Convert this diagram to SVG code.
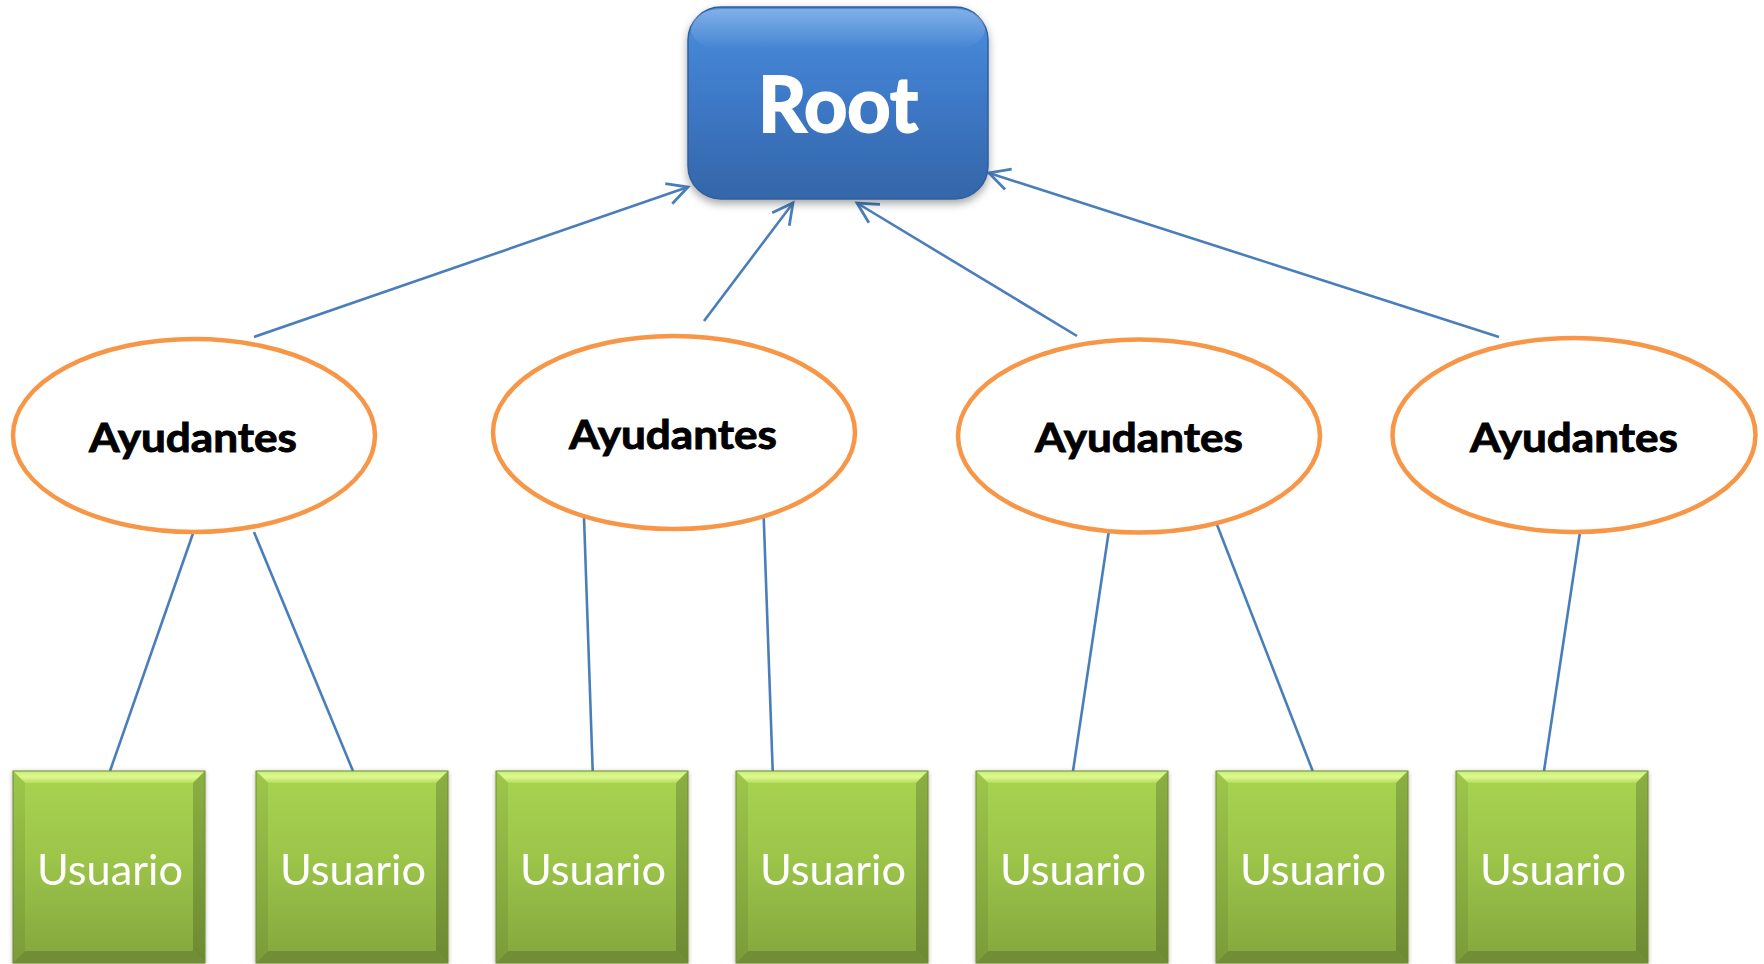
<svg xmlns="http://www.w3.org/2000/svg" xmlns:xlink="http://www.w3.org/1999/xlink" width="1764" height="964" viewBox="0 0 1764 964">
  <defs>
    <style>
      .conn { stroke: #4A7EBB; stroke-width: 2.6; fill: none; stroke-linecap: butt; }
      .ellipse { fill: #FFFFFF; stroke: #F79646; stroke-width: 4.5; }
      .ayu { font-family: Lato, "Liberation Sans", "Open Sans", sans-serif; font-weight: bold; font-size: 40px; fill: #000000; stroke: #000000; stroke-width: 0.9; text-anchor: middle; }
      .usu { font-family: Lato, "Liberation Sans", "Open Sans", sans-serif; font-weight: normal; font-size: 43px; fill: #FFFFFF; text-anchor: middle; }
      .root { font-family: Lato, "Liberation Sans", "Open Sans", sans-serif; font-weight: bold; font-size: 76px; fill: #FFFFFF; stroke: #FFFFFF; stroke-width: 2; text-anchor: middle; }
    </style>
    <linearGradient id="gRoot" x1="0" y1="0" x2="0" y2="1">
      <stop offset="0" stop-color="#4A8EDD"/>
      <stop offset="0.5" stop-color="#3D78C6"/>
      <stop offset="1" stop-color="#3566A8"/>
    </linearGradient>
    <linearGradient id="gRootHi" x1="0" y1="0" x2="0" y2="1">
      <stop offset="0" stop-color="#FFFFFF" stop-opacity="0.3"/>
      <stop offset="1" stop-color="#FFFFFF" stop-opacity="0"/>
    </linearGradient>
    <linearGradient id="gBox" x1="0" y1="0" x2="0" y2="1">
      <stop offset="0" stop-color="#A9D451"/>
      <stop offset="0.45" stop-color="#9CC54A"/>
      <stop offset="1" stop-color="#84A63E"/>
    </linearGradient>
    <linearGradient id="gBevTop" x1="0" y1="0" x2="0" y2="1">
      <stop offset="0" stop-color="#C9EC7A"/>
      <stop offset="0.5" stop-color="#DDF98F"/>
      <stop offset="1" stop-color="#B5DC5C"/>
    </linearGradient>
    <linearGradient id="gBevSide" x1="0" y1="0" x2="0" y2="1">
      <stop offset="0" stop-color="#9CC84A"/>
      <stop offset="1" stop-color="#7B9B39"/>
    </linearGradient>
    <linearGradient id="gBevRight" x1="0" y1="0" x2="0" y2="1">
      <stop offset="0" stop-color="#8AB043"/>
      <stop offset="1" stop-color="#6C8A32"/>
    </linearGradient>
    <filter id="shadowRoot" x="-10%" y="-10%" width="120%" height="130%">
      <feDropShadow dx="0" dy="4" stdDeviation="4" flood-color="#000000" flood-opacity="0.35"/>
    </filter>
    <filter id="shadowBox" x="-10%" y="-10%" width="120%" height="120%">
      <feDropShadow dx="0" dy="1" stdDeviation="2" flood-color="#000000" flood-opacity="0.3"/>
    </filter>
    <marker id="arrowOpen" markerUnits="userSpaceOnUse" markerWidth="30" markerHeight="30" viewBox="-24 -14 28 28" refX="0" refY="0" orient="auto">
      <path d="M -19 -10 L 0 0 L -19 10" fill="none" stroke="#4A7EBB" stroke-width="2.6"/>
    </marker>
    <g id="usuarioShape">
      <rect x="0" y="0" width="192" height="192" fill="url(#gBox)"/>
      <polygon points="0,0 192,0 180,12 12,12" fill="url(#gBevTop)"/>
      <polygon points="0,0 12,12 12,180 0,192" fill="url(#gBevSide)"/>
      <polygon points="192,0 192,192 180,180 180,12" fill="url(#gBevRight)"/>
      <polygon points="0,192 12,180 180,180 192,192" fill="#6F8E34"/>
      <rect x="0" y="0" width="192" height="192" fill="none" stroke="#6E8C33" stroke-width="1"/>
    </g>
  </defs>

  <rect x="0" y="0" width="1764" height="964" fill="#FFFFFF"/>

  <g id="connectors">
    <line class="conn" x1="254" y1="337" x2="688" y2="187" marker-end="url(#arrowOpen)"/>
    <line class="conn" x1="704" y1="321" x2="793" y2="203" marker-end="url(#arrowOpen)"/>
    <line class="conn" x1="1077" y1="336" x2="857" y2="203" marker-end="url(#arrowOpen)"/>
    <line class="conn" x1="1499" y1="337" x2="989" y2="173" marker-end="url(#arrowOpen)"/>
    <line class="conn" x1="193.5" y1="532" x2="110" y2="771"/>
    <line class="conn" x1="254" y1="532" x2="353" y2="771"/>
    <line class="conn" x1="584" y1="517" x2="592.7" y2="771"/>
    <line class="conn" x1="763.7" y1="517" x2="772.7" y2="771"/>
    <line class="conn" x1="1108.7" y1="532" x2="1073" y2="771"/>
    <line class="conn" x1="1214" y1="517" x2="1312.7" y2="771"/>
    <line class="conn" x1="1580" y1="532" x2="1544" y2="771"/>
  </g>

  <g id="root">
    <rect x="688" y="7" width="300" height="192" rx="33" ry="33" fill="url(#gRoot)" stroke="#2F5E9C" stroke-width="1.5" filter="url(#shadowRoot)"/>
    <rect x="691" y="9" width="294" height="40" rx="30" ry="30" fill="url(#gRootHi)"/>
    <text class="root" x="838" y="132" textLength="160" lengthAdjust="spacingAndGlyphs">Root</text>
  </g>

  <g id="ayudantes1">
    <ellipse class="ellipse" cx="194" cy="435.5" rx="181" ry="96.5"/>
    <text class="ayu" x="193" y="452" textLength="208" lengthAdjust="spacingAndGlyphs">Ayudantes</text>
  </g>
  <g id="ayudantes2">
    <ellipse class="ellipse" cx="674" cy="432.5" rx="181" ry="96.5"/>
    <text class="ayu" x="673" y="449" textLength="208" lengthAdjust="spacingAndGlyphs">Ayudantes</text>
  </g>
  <g id="ayudantes3">
    <ellipse class="ellipse" cx="1139" cy="436" rx="181" ry="96.5"/>
    <text class="ayu" x="1139" y="452" textLength="208" lengthAdjust="spacingAndGlyphs">Ayudantes</text>
  </g>
  <g id="ayudantes4">
    <ellipse class="ellipse" cx="1574" cy="435" rx="181.5" ry="97"/>
    <text class="ayu" x="1574" y="452" textLength="208" lengthAdjust="spacingAndGlyphs">Ayudantes</text>
  </g>

  <g id="usuario1" filter="url(#shadowBox)">
    <use xlink:href="#usuarioShape" x="13" y="771"/>
    <text class="usu" x="110" y="885" textLength="146" lengthAdjust="spacingAndGlyphs">Usuario</text>
  </g>
  <g id="usuario2" filter="url(#shadowBox)">
    <use xlink:href="#usuarioShape" x="256" y="771"/>
    <text class="usu" x="353" y="885" textLength="146" lengthAdjust="spacingAndGlyphs">Usuario</text>
  </g>
  <g id="usuario3" filter="url(#shadowBox)">
    <use xlink:href="#usuarioShape" x="496" y="771"/>
    <text class="usu" x="593" y="885" textLength="146" lengthAdjust="spacingAndGlyphs">Usuario</text>
  </g>
  <g id="usuario4" filter="url(#shadowBox)">
    <use xlink:href="#usuarioShape" x="736" y="771"/>
    <text class="usu" x="833" y="885" textLength="146" lengthAdjust="spacingAndGlyphs">Usuario</text>
  </g>
  <g id="usuario5" filter="url(#shadowBox)">
    <use xlink:href="#usuarioShape" x="976" y="771"/>
    <text class="usu" x="1073" y="885" textLength="146" lengthAdjust="spacingAndGlyphs">Usuario</text>
  </g>
  <g id="usuario6" filter="url(#shadowBox)">
    <use xlink:href="#usuarioShape" x="1216" y="771"/>
    <text class="usu" x="1313" y="885" textLength="146" lengthAdjust="spacingAndGlyphs">Usuario</text>
  </g>
  <g id="usuario7" filter="url(#shadowBox)">
    <use xlink:href="#usuarioShape" x="1456" y="771"/>
    <text class="usu" x="1553" y="885" textLength="146" lengthAdjust="spacingAndGlyphs">Usuario</text>
  </g>
</svg>
